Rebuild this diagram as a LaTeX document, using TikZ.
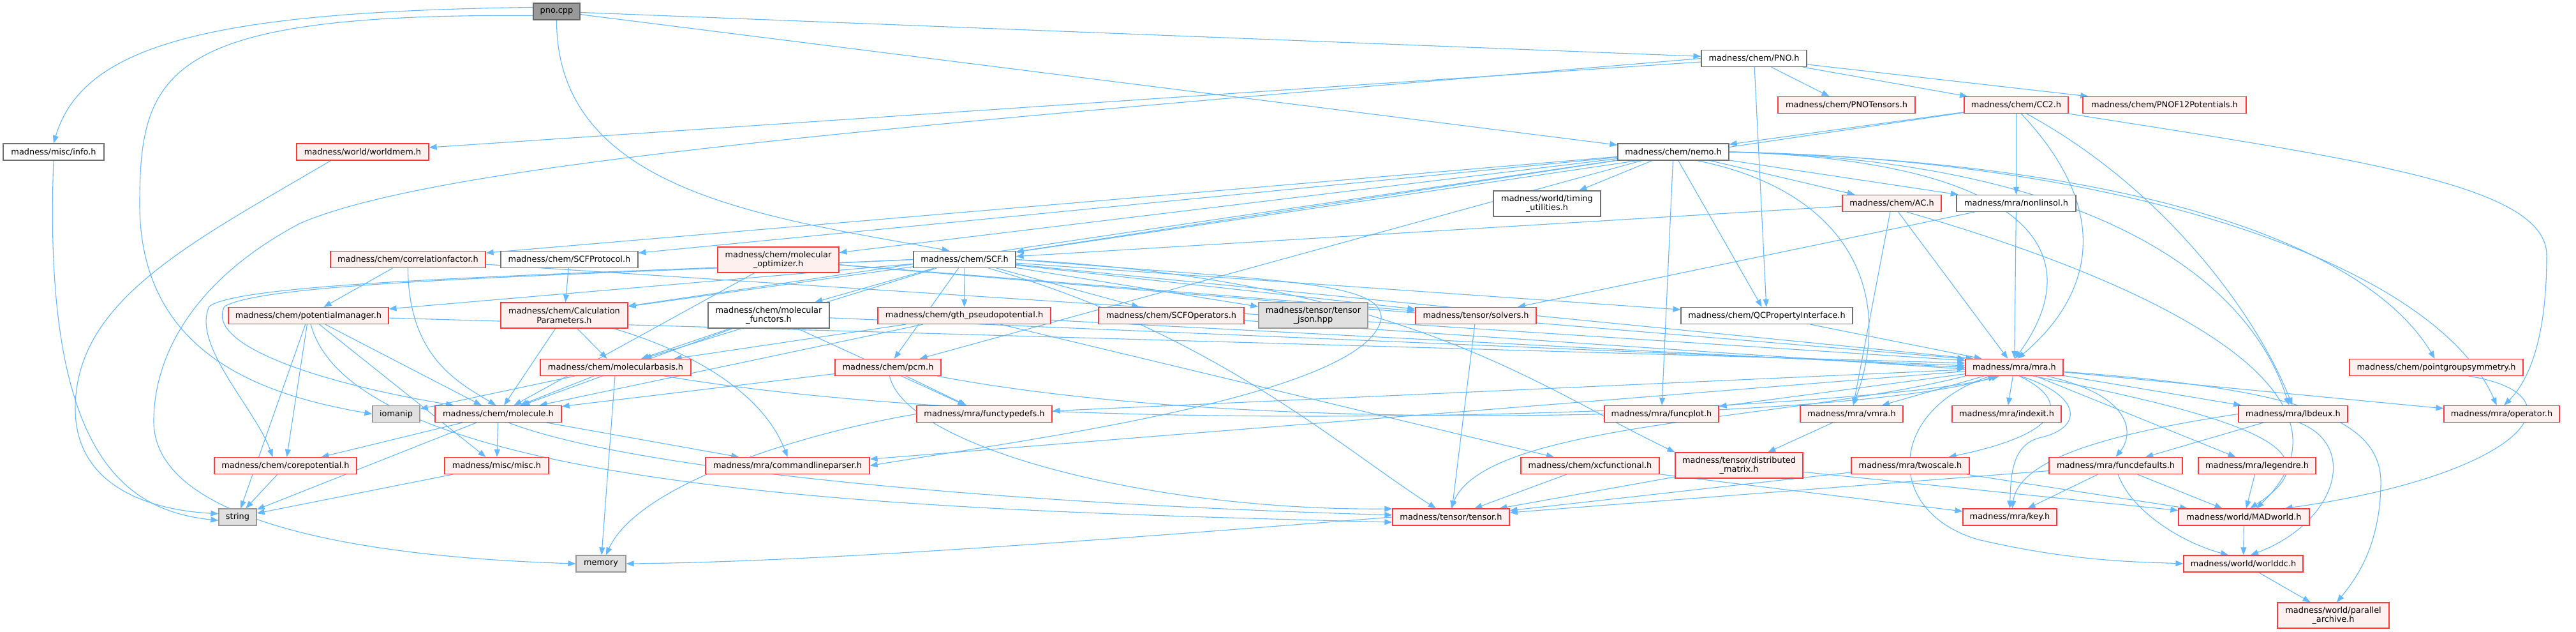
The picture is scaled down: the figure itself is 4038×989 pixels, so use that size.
\documentclass[tikz,border=0pt]{standalone}
\usepackage{fontspec}
\setmainfont{DejaVu Sans}
\usetikzlibrary{arrows.meta,backgrounds}
\definecolor{cEdge}{HTML}{63B8FF}
\definecolor{cRed}{HTML}{FF3838}
\definecolor{cPink}{HTML}{FFF0F0}
\definecolor{cWB}{HTML}{707070}
\definecolor{cGB}{HTML}{999999}
\definecolor{cGF}{HTML}{E0E0E0}
\definecolor{cRF}{HTML}{999999}
\definecolor{cRB}{HTML}{666666}
\newcommand{\dfs}{\fontsize{12.9}{14.5}\selectfont}
\newcommand{\nd}[6]{\node[#1,minimum width=#2pt,minimum height=#3pt] (#4) at (#5) {#6};}
\tikzset{
  base/.style={rectangle, inner sep=0pt, font=\dfs, align=center, line width=1.2pt},
  rn/.style={base, draw=cRed, fill=cPink},
  wn/.style={base, draw=cWB, fill=white},
  gn/.style={base, draw=cGB, fill=cGF},
  rootn/.style={base, draw=cRB, fill=cRF},
  e/.style={draw=cEdge, line width=1.1pt, -{Triangle[length=12pt,width=9pt]}}
}
\begin{document}
\begin{tikzpicture}[x=1pt,y=1pt]
\useasboundingbox (0,0) rectangle (4038,-989);
\nd{rootn}{73}{26}{pno}{872.5,-18}{pno.cpp}
\nd{wn}{158}{26}{info}{84,-238}{madness/misc/info.h}
\nd{rn}{207}{26}{wmem}{568.5,-238}{madness/world/worldmem.h}
\nd{wn}{165}{26}{pnoh}{2749.5,-91.5}{madness/chem/PNO.h}
\nd{rn}{215}{26}{pnot}{2894.5,-164.5}{madness/chem/PNOTensors.h}
\nd{rn}{163}{26}{cc2}{3160.5,-164.5}{madness/chem/CC2.h}
\nd{rn}{256}{26}{pnof}{3393,-164.5}{madness/chem/PNOF12Potentials.h}
\nd{wn}{174}{26}{nemo}{2623,-238}{madness/chem/nemo.h}
\nd{wn}{168}{40}{timing}{2425,-319}{madness/world/timing\\\_utilities.h}
\nd{rn}{155}{26}{ac}{2965.5,-318.5}{madness/chem/AC.h}
\nd{wn}{187}{26}{nonlin}{3160.5,-318.5}{madness/mra/nonlinsol.h}
\nd{rn}{243}{26}{corr}{639.5,-406.5}{madness/chem/correlationfactor.h}
\nd{wn}{215}{26}{scfp}{892.5,-406.5}{madness/chem/SCFProtocol.h}
\nd{rn}{190}{40}{molopt}{1220,-407}{madness/chem/molecular\\\_optimizer.h}
\nd{wn}{160}{26}{scf}{1512,-406.5}{madness/chem/SCF.h}
\nd{rn}{251}{26}{potm}{483.5,-494.5}{madness/chem/potentialmanager.h}
\nd{rn}{199}{40}{calc}{884.5,-494}{madness/chem/Calculation\\Parameters.h}
\nd{wn}{190}{40}{molf}{1205,-494}{madness/chem/molecular\\\_functors.h}
\nd{rn}{271}{26}{gth}{1511.5,-494.5}{madness/chem/gth\_pseudopotential.h}
\nd{rn}{228}{26}{scfo}{1836,-494.5}{madness/chem/SCFOperators.h}
\nd{gn}{171}{40}{tjson}{2058.5,-494}{madness/tensor/tensor\\\_json.hpp}
\nd{rn}{189}{26}{solv}{2313.5,-494.5}{madness/tensor/solvers.h}
\nd{wn}{269}{26}{qcp}{2769.5,-494.5}{madness/chem/QCPropertyInterface.h}
\nd{rn}{236}{26}{molb}{965,-575.5}{madness/chem/molecularbasis.h}
\nd{rn}{166}{26}{pcm}{1392,-575.5}{madness/chem/pcm.h}
\nd{rn}{153}{26}{mra}{3157.5,-575.5}{madness/mra/mra.h}
\nd{rn}{272}{26}{pgs}{3819,-575.5}{madness/chem/pointgroupsymmetry.h}
\nd{gn}{74}{26}{ioma}{621,-648.5}{iomanip}
\nd{rn}{198}{26}{mol}{781,-648.5}{madness/chem/molecule.h}
\nd{rn}{212}{26}{ftd}{1543,-648.5}{madness/mra/functypedefs.h}
\nd{rn}{179}{26}{fplot}{2604.5,-648.5}{madness/mra/funcplot.h}
\nd{rn}{161}{26}{vmra}{2902.5,-648.5}{madness/mra/vmra.h}
\nd{rn}{171}{26}{idx}{3145.5,-648.5}{madness/mra/indexit.h}
\nd{rn}{171}{26}{lbd}{3594.5,-648.5}{madness/mra/lbdeux.h}
\nd{rn}{181}{26}{oper}{3921.5,-648.5}{madness/mra/operator.h}
\nd{rn}{223}{26}{corep}{447.5,-729.5}{madness/chem/corepotential.h}
\nd{rn}{163}{26}{misc}{778.5,-729.5}{madness/misc/misc.h}
\nd{rn}{257}{26}{clp}{1234.5,-729.5}{madness/mra/commandlineparser.h}
\nd{rn}{217}{26}{xcf}{2492.5,-729.5}{madness/chem/xcfunctional.h}
\nd{rn}{200}{40}{dmat}{2726,-729}{madness/tensor/distributed\\\_matrix.h}
\nd{rn}{185}{26}{twos}{2994.5,-729.5}{madness/mra/twoscale.h}
\nd{rn}{209}{26}{fdef}{3316.5,-729.5}{madness/mra/funcdefaults.h}
\nd{rn}{184}{26}{leg}{3538,-729.5}{madness/mra/legendre.h}
\nd{gn}{59}{26}{str}{372.5,-810}{string}
\nd{rn}{183}{26}{tensor}{2274.5,-810}{madness/tensor/tensor.h}
\nd{rn}{147}{26}{key}{3150.5,-810}{madness/mra/key.h}
\nd{rn}{205}{26}{madw}{3517.5,-810}{madness/world/MADworld.h}
\nd{gn}{78}{26}{mem}{942,-883}{memory}
\nd{rn}{187}{26}{wdc}{3516.5,-883}{madness/world/worlddc.h}
\nd{rn}{175}{40}{parc}{3657.5,-964}{madness/world/parallel\\\_archive.h}
\begin{pgfonlayer}{background}
\fill[white] (0,0) rectangle (4038,-989);
\foreach \a/\b in {pno/pnoh, pno/nemo, pnoh/pnot, pnoh/cc2, pnoh/pnof, pnoh/wmem, pnoh/qcp,
  cc2/nemo, cc2/scf, cc2/nonlin,
  nemo/timing, nemo/ac, nemo/nonlin, nemo/qcp, nemo/fplot, nemo/corr, nemo/scfp, nemo/calc, nemo/molopt, nemo/scf, nemo/pcm,
  ac/scf, ac/vmra, ac/mra, nonlin/mra, nonlin/solv,
  corr/potm, scfp/calc, molopt/mol, molopt/solv,
  scf/molf, scf/gth, scf/scfo, scf/tjson, scf/solv, scf/qcp, scf/calc, scf/potm, scf/molb, scf/pcm,
  potm/corep, potm/str, potm/mol, potm/misc,
  calc/molb, calc/mol, molf/molb, molf/mol, molf/ftd,
  gth/molb, gth/mol, gth/xcf, solv/tensor,
  molb/mol, molb/ioma, molb/mem, pcm/mol, pcm/ftd,
  mra/idx, mra/lbd, mra/oper, mra/leg, mra/vmra, mra/fplot, mra/ftd, mra/clp,
  mol/corep, mol/misc, mol/str, mol/clp,
  vmra/dmat, lbd/fdef, corep/str, misc/str,
  xcf/tensor, xcf/key, dmat/tensor, dmat/madw, twos/tensor, twos/madw,
  fdef/key, fdef/madw, fdef/tensor, leg/madw, madw/wdc, wdc/parc,
  potm/mra.175, corr/mra.172, molopt/mra.170, molf/mra.178, gth/mra.180, scfo/mra.182, scf/mra.168, qcp/mra.165}
  \draw[e] (\a) -- (\b);
\draw[e] (pno.170) .. controls (330,-18) and (130,-70) .. (info.north);
\draw[e] (pno.190) .. controls (260,-20) and (219,-110) .. (219,-320) .. controls (219,-560) and (420,-620) .. (ioma.west);
\draw[e] (pno.south) .. controls (872,-300) and (1200,-340) .. (scf.150);
\draw[e] (info.south) .. controls (66,-720) and (200,-800) .. (str.190);
\draw[e] ([xshift=-50pt]wmem.south) .. controls (300,-380) and (118,-470) .. (118,-640) .. controls (118,-770) and (250,-800) .. (str.170);
\draw[e] (pnoh.west) .. controls (1500,-190) and (700,-250) .. (470,-350) .. controls (300,-440) and (241,-560) .. (241,-660) .. controls (241,-800) and (500,-870) .. (mem.west);
\draw[e] (scf.west) .. controls (900,-430) and (380,-440) .. (328,-480) .. controls (300,-540) and (400,-640) .. ([xshift=-20pt]corep.north);
\draw[e] (scf.west) .. controls (900,-432) and (420,-440) .. (352,-480) .. controls (320,-540) and (500,-600) .. ([xshift=-70pt]mol.north);
\draw[e] (scf.east) .. controls (2000,-440) and (2170,-440) .. (2165,-500) .. controls (2140,-620) and (1600,-690) .. (clp.east);
\draw[e] (cc2.-60) .. controls (3330,-350) and (3260,-480) .. (mra.70);
\draw[e] (cc2.south east) .. controls (3700,-250) and (3992,-290) .. (3992,-400) .. controls (3992,-540) and (3960,-600) .. (oper.75);
\draw[e] (cc2.-40) .. controls (3400,-300) and (3540,-500) .. (lbd.95);
\draw[e] (nemo.east) .. controls (3150,-250) and (3290,-380) .. (mra.85);
\draw[e] (nemo.east) .. controls (3250,-250) and (3520,-420) .. (lbd.115);
\draw[e] (nemo.east) .. controls (3350,-250) and (3820,-420) .. (oper.120);
\draw[e] (nemo.east) .. controls (3400,-255) and (3720,-400) .. (pgs.100);
\draw[e] (nemo.-20) .. controls (2900,-300) and (2970,-460) .. (vmra.80);
\draw[e] (ac.-30) .. controls (3400,-450) and (3720,-620) .. (madw.35);
\draw[e] (mra.-5) .. controls (3620,-610) and (3735,-660) .. (3732,-760) .. controls (3730,-860) and (3690,-910) .. (parc.75);
\draw[e] (mra.200) .. controls (2960,-640) and (2950,-800) .. (3100,-845) .. controls (3250,-880) and (3350,-880) .. (wdc.west);
\draw[e] (mra.-55) .. controls (3265,-620) and (3265,-670) .. (3200,-685) .. controls (3155,-695) and (3152,-740) .. (key.north);
\draw[e] (mra.-60) .. controls (3250,-630) and (3230,-680) .. ([xshift=60pt]twos.north);
\draw[e] (mra.-15) .. controls (3345,-620) and (3345,-680) .. (fdef.north);
\draw[e] (mra.-25) .. controls (3550,-660) and (3660,-710) .. (madw.55);
\draw[e] (mra.190) .. controls (2800,-660) and (2330,-660) .. (tensor.north);
\draw[e] (lbd.west) .. controls (3300,-680) and (3165,-720) .. (key.75);
\draw[e] (lbd.-55) .. controls (3700,-700) and (3660,-820) .. (wdc.50);
\draw[e] (pgs.-15) .. controls (4060,-620) and (3950,-745) .. (madw.12);
\draw[e] (fdef.-75) .. controls (3340,-800) and (3420,-850) .. (wdc.150);
\draw[e] (corr.south) .. controls (640,-560) and (720,-600) .. (mol.105);
\draw[e] (calc.-15) .. controls (1050,-540) and (1190,-600) .. (clp.north);
\draw[e] (potm.-75) .. controls (560,-780) and (1500,-800) .. (tensor.185);
\draw[e] (mol.-40) .. controls (1000,-740) and (1600,-790) .. (tensor.178);
\draw[e] (pcm.-80) .. controls (1420,-700) and (1800,-800) .. (tensor.172);
\draw[e] (scf.-20) .. controls (1900,-520) and (2100,-700) .. (tensor.150);
\draw[e] (scf.east) .. controls (2200,-440) and (2400,-600) .. (dmat.north west);
\draw[e] (ftd.west) .. controls (1250,-680) and (1000,-760) .. (mem.60);
\draw[e] (tensor.west) .. controls (1800,-840) and (1300,-880) .. (mem.east);
\draw[e] (pcm.-10) .. controls (2000,-690) and (2950,-650) .. (mra.205);
\draw[e] (molb.-10) .. controls (1700,-700) and (2950,-640) .. (mra.210);
\end{pgfonlayer}
\end{tikzpicture}
\end{document}
